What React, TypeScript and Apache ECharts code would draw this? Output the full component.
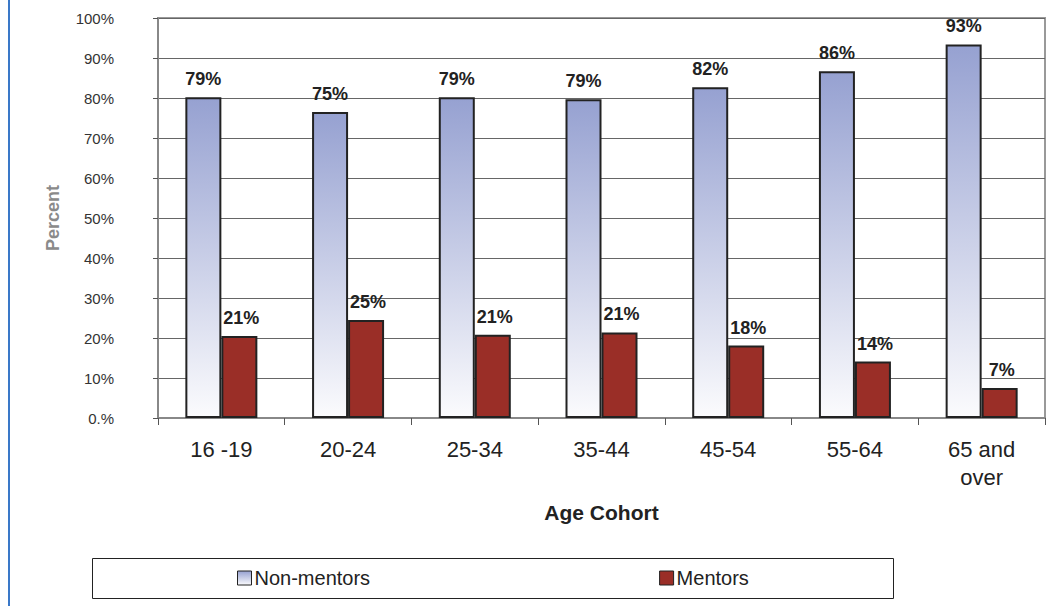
import React, { useEffect, useRef } from "react";
import * as echarts from "echarts";

const categories = ["16 -19", "20-24", "25-34", "35-44", "45-54", "55-64", "65 and\nover"];
const nonMentorValues = [80.2, 76.5, 80.2, 79.7, 82.7, 86.7, 93.4];
const mentorValues = [20.5, 24.5, 20.8, 21.4, 18.1, 14.1, 7.5];
const nonMentorLabels = ["79%", "75%", "79%", "79%", "82%", "86%", "93%"];
const mentorLabels = ["21%", "25%", "21%", "21%", "18%", "14%", "7%"];
const yTicks = [0, 10, 20, 30, 40, 50, 60, 70, 80, 90, 100];

const FONT = "'Liberation Sans', Arial, sans-serif";

export default function App() {
  const ref = useRef<HTMLDivElement>(null);
  useEffect(() => {
    document.body.style.margin = "0";
    const chart = echarts.init(ref.current!, null, { renderer: "svg" });
    const nonGrad = new echarts.graphic.LinearGradient(0, 0, 0, 1, [
      { offset: 0, color: "#96a1d1" },
      { offset: 1, color: "#fbfbfd" },
    ]);
    chart.setOption({
      animation: false,
      backgroundColor: "#ffffff",
      textStyle: { fontFamily: FONT },
      grid: {
        left: 158,
        right: 11,
        top: 18,
        bottom: 188,
        show: true,
        borderColor: "#999999",
        borderWidth: 2,
        backgroundColor: "transparent",
      },
      legend: {
        left: 232,
        top: 563,
        padding: 5,
        icon: "rect",
        itemWidth: 14,
        itemHeight: 14,
        itemGap: 289,
        selectedMode: false,
        textStyle: { fontSize: 20, color: "#222", fontFamily: FONT, padding: [0, 0, 0, -2] },
        itemStyle: { borderColor: "#222", borderWidth: 1 },
        data: ["Non-mentors", "Mentors"],
      },
      graphic: [
        {
          type: "line",
          shape: { x1: 9, y1: 0, x2: 9, y2: 606 },
          style: { stroke: "#3a78c8", lineWidth: 2 },
        },
        {
          type: "rect",
          shape: { x: 92.5, y: 558.5, width: 801, height: 40 },
          style: { fill: "none", stroke: "#222", lineWidth: 1 },
          z: -1,
        },
      ],
      xAxis: {
        type: "category",
        data: categories,
        axisLine: { show: true, lineStyle: { color: "#888", width: 2 } },
        axisTick: { show: true, length: 7, lineStyle: { color: "#555", width: 1 } },
        axisLabel: { fontSize: 22, color: "#222", margin: 17, lineHeight: 28, fontFamily: FONT },
        name: "Age Cohort",
        nameLocation: "middle",
        nameGap: 84,
        nameTextStyle: { fontSize: 21, fontWeight: "bold", color: "#222", fontFamily: FONT },
      },
      yAxis: {
        type: "value",
        min: 0,
        max: 100,
        interval: 10,
        axisLine: { show: true, lineStyle: { color: "#888", width: 2 } },
        axisTick: { show: true, length: 5, lineStyle: { color: "#555" } },
        axisLabel: {
          fontSize: 15,
          color: "#333",
          margin: 44,
          fontFamily: FONT,
          formatter: (v: number) => (yTicks.includes(v) ? (v === 0 ? "0.%" : v + "%") : ""),
        },
        splitLine: { show: true, lineStyle: { color: "#666", width: 1 } },
        name: "Percent",
        nameLocation: "middle",
        nameGap: 96,
        nameTextStyle: { fontSize: 18, fontWeight: "bold", color: "#8a8a8a", fontFamily: FONT },
      },
      series: [
        {
          name: "Non-mentors",
          type: "bar",
          data: nonMentorValues,
          barWidth: 36,
          barGap: "0%",
          itemStyle: { color: nonGrad, borderColor: "#222", borderWidth: 2 },
          label: {
            show: true,
            position: "top",
            distance: 9,
            fontSize: 18,
            fontWeight: "bold",
            color: "#222",
            fontFamily: FONT,
            formatter: (p: any) => nonMentorLabels[p.dataIndex],
          },
        },
        {
          name: "Mentors",
          type: "bar",
          data: mentorValues,
          barWidth: 36,
          barGap: "0%",
          itemStyle: { color: "#9a2e27", borderColor: "#222", borderWidth: 2 },
          label: {
            show: true,
            position: "top",
            distance: 9,
            offset: [2, 0],
            fontSize: 18,
            fontWeight: "bold",
            color: "#222",
            fontFamily: FONT,
            formatter: (p: any) => mentorLabels[p.dataIndex],
          },
        },
      ],
    });
    return () => chart.dispose();
  }, []);
  return <div ref={ref} style={{ width: 1056, height: 606 }} />;
}
